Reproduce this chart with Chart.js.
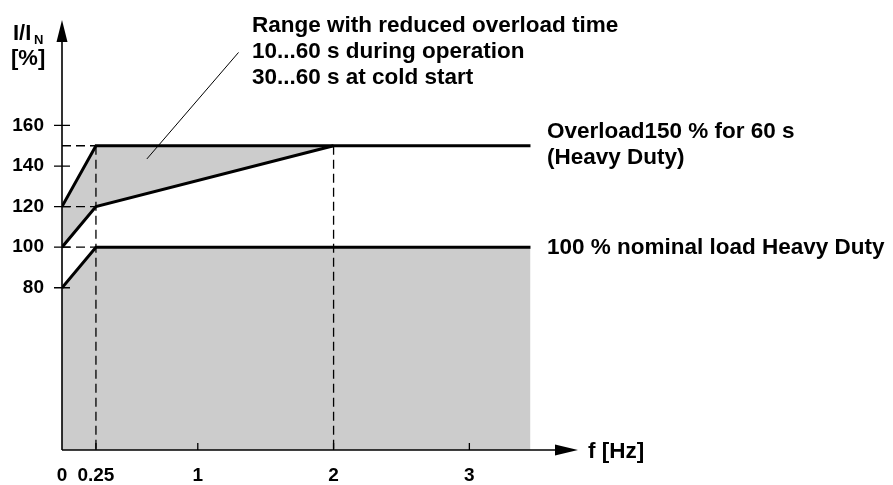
<!DOCTYPE html>
<html>
<head>
<meta charset="utf-8">
<script src="https://cdn.jsdelivr.net/npm/chart.js@4.4.1/dist/chart.umd.min.js"></script>
<style>
  html, body { margin: 0; padding: 0; background: #fff; }
  #wrap { width: 893px; height: 485px; }
</style>
</head>
<body>
<div id="wrap"><canvas id="myChart" width="893" height="485"></canvas></div>
<script>
// frequency breakpoints [Hz]
const freqHz      = [0, 0.25, 2, 3.45];
// current in % of I_N
const overloadPct = [120, 150, 150, 150];
const reducedPct  = [100, 120, 150];
const nominalPct  = [80, 100, 100, 100];

const xTicks = [0, 0.25, 1, 2, 3];
const yTicks = [80, 100, 120, 140, 160];

// dashed helper lines, in data units
const guides = [
  [[0, 150], [0.25, 150]],
  [[0, 120], [0.25, 120]],
  [[0, 100], [0.25, 100]],
  [[0.25, 150], [0.25, 0]],
  [[2, 150], [2, 0]]
];

const topNote   = ['Range with reduced overload time', '10...60 s during operation', '30...60 s at cold start'];
const overNote  = ['Overload150 % for 60 s', '(Heavy Duty)'];
const nomNote   = ['100 % nominal load Heavy Duty'];

const FONT = '"Liberation Sans", Arial, sans-serif';
const GRAY = '#cccccc';

const toPts = (ys) => ys.map((y, i) => ({ x: freqHz[i], y }));

// fixed axis boxes so the plot area lands where the drawing has it
const fixBox = (w, h) => (s) => {
  if (w !== null) s.width = w;
  if (h !== null) s.height = h;
  s.paddingTop = s.paddingBottom = s.paddingLeft = s.paddingRight = 0;
};

const decor = {
  id: 'decor',
  afterDatasetsDraw(chart) {
    const { ctx, chartArea: a, scales: { x, y } } = chart;
    const px = (v) => x.getPixelForValue(v);
    const py = (v) => y.getPixelForValue(v);
    ctx.save();
    ctx.strokeStyle = '#000';
    ctx.fillStyle = '#000';

    // dashed guides
    ctx.lineWidth = 1.3;
    ctx.setLineDash([9, 5]);
    guides.forEach(([p, q]) => {
      ctx.beginPath();
      ctx.moveTo(px(p[0]), py(p[1]));
      ctx.lineTo(px(q[0]), py(q[1]));
      ctx.stroke();
    });
    ctx.setLineDash([]);

    // axes with arrows
    const x0 = px(0), y0 = py(0);
    ctx.lineWidth = 1.6;
    ctx.beginPath();
    ctx.moveTo(x0, y0); ctx.lineTo(a.right - 20, y0);
    ctx.moveTo(x0, y0); ctx.lineTo(x0, a.top + 20);
    ctx.stroke();
    ctx.beginPath();
    ctx.moveTo(a.right, y0); ctx.lineTo(a.right - 23, y0 - 5.5); ctx.lineTo(a.right - 23, y0 + 5.5);
    ctx.closePath(); ctx.fill();
    ctx.beginPath();
    ctx.moveTo(x0, a.top); ctx.lineTo(x0 - 5.5, a.top + 22); ctx.lineTo(x0 + 5.5, a.top + 22);
    ctx.closePath(); ctx.fill();

    // tick marks
    ctx.lineWidth = 1.3;
    ctx.beginPath();
    yTicks.forEach(v => { ctx.moveTo(x0 - 8, py(v)); ctx.lineTo(x0 + 8, py(v)); });
    xTicks.slice(1).forEach(v => { ctx.moveTo(px(v), y0); ctx.lineTo(px(v), y0 - 7); });
    ctx.stroke();

    // callout line
    ctx.lineWidth = 1;
    ctx.beginPath();
    ctx.moveTo(px(1.3), py(196));
    ctx.lineTo(px(0.625), py(143.5));
    ctx.stroke();

    // texts
    ctx.font = 'bold 22.5px ' + FONT;
    ctx.textAlign = 'left';
    ctx.textBaseline = 'alphabetic';
    topNote.forEach((t, i) => ctx.fillText(t, 252, 32 + i * 26));
    overNote.forEach((t, i) => ctx.fillText(t, 547, 138 + i * 26));
    nomNote.forEach((t, i) => ctx.fillText(t, 547, 254 + i * 26));
    ctx.fillText('f [Hz]', a.right + 10, y0 + 8);

    // y axis title
    ctx.font = 'bold 22px ' + FONT;
    ctx.fillText('I/I', 13, 40);
    ctx.font = 'bold 13px ' + FONT;
    ctx.fillText('N', 34, 44);
    ctx.font = 'bold 22px ' + FONT;
    ctx.fillText('[%]', 11, 65);
    ctx.restore();
  }
};

const ctx = document.getElementById('myChart').getContext('2d');
const chart = new Chart(ctx, {
  type: 'line',
  data: {
    datasets: [
      { // shaded band between overload and reduced lines
        data: toPts(overloadPct.slice(0, 3)),
        borderWidth: 0, borderColor: 'rgba(0,0,0,0)',
        backgroundColor: GRAY, fill: '+1', order: 5
      },
      {
        data: toPts(reducedPct),
        borderColor: '#000', borderWidth: 3, fill: false, order: 1
      },
      {
        data: toPts(overloadPct),
        borderColor: '#000', borderWidth: 3, fill: false, order: 1
      },
      {
        data: toPts(nominalPct),
        borderColor: '#000', borderWidth: 3,
        backgroundColor: GRAY, fill: 'origin', order: 4
      }
    ]
  },
  options: {
    responsive: false,
    animation: false,
    layout: { padding: { top: 20, right: 315, left: 0, bottom: 0 } },
    elements: { point: { radius: 0 }, line: { tension: 0, borderJoinStyle: 'miter' } },
    plugins: { legend: { display: false }, tooltip: { enabled: false } },
    scales: {
      x: {
        type: 'linear', min: 0, max: 3.8,
        border: { display: false },
        grid: { display: false, drawTicks: false },
        afterBuildTicks: (s) => { s.ticks = xTicks.map(v => ({ value: v })); },
        afterFit: fixBox(null, 35),
        ticks: { color: '#000', font: { family: FONT, size: 19, weight: 'bold' }, padding: 14, maxRotation: 0, callback: (v) => String(v) }
      },
      y: {
        type: 'linear', min: 0, max: 212,
        border: { display: false },
        grid: { display: false, drawTicks: false },
        afterBuildTicks: (s) => { s.ticks = yTicks.map(v => ({ value: v })); },
        afterFit: fixBox(62, null),
        ticks: { color: '#000', font: { family: FONT, size: 19, weight: 'bold' }, padding: 18, callback: (v) => String(v) }
      }
    }
  },
  plugins: [decor]
});
</script>
</body>
</html>
